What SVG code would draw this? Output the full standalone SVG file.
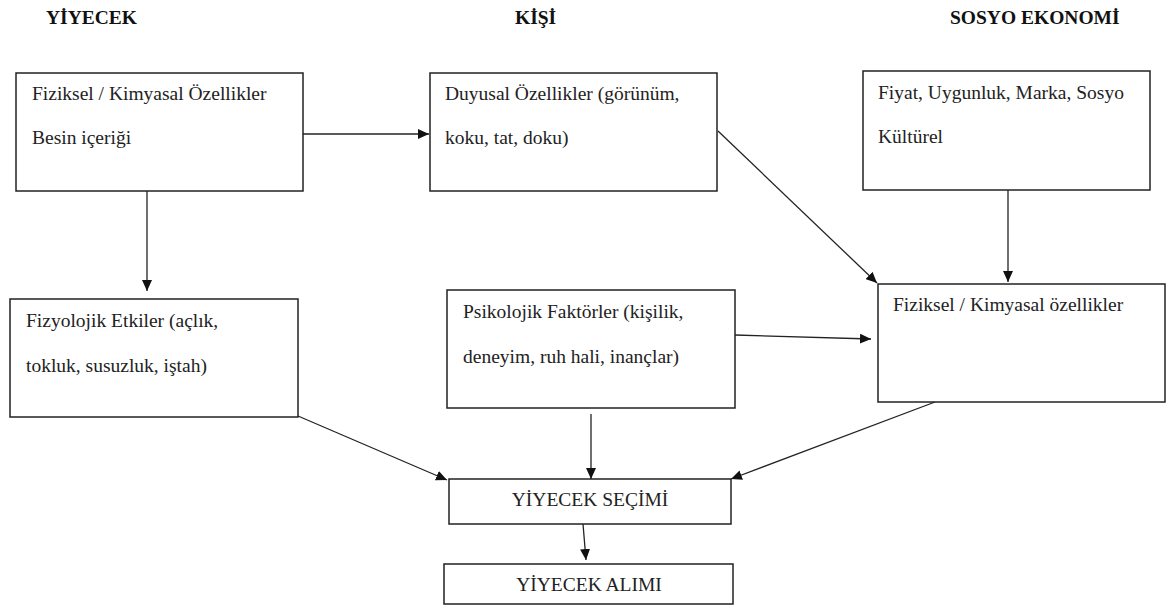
<svg xmlns="http://www.w3.org/2000/svg" width="1173" height="605" viewBox="0 0 1173 605">
  <style>
    .box { fill: #fff; stroke: #222; stroke-width: 1.5; }
    .txt { font-family: 'Liberation Serif', 'Times New Roman', Times, 'DejaVu Serif', serif; font-size: 19.5px; fill: #222; }
    .head { font-family: 'Liberation Serif', 'Times New Roman', Times, 'DejaVu Serif', serif; font-size: 19.5px; font-weight: bold; fill: #111; }
    .mid { text-anchor: middle; }
    .conn { stroke: #222; stroke-width: 1.3; fill: none; marker-end: url(#arrow); }
  </style>
  <defs>
    <marker id="arrow" markerUnits="userSpaceOnUse" markerWidth="12" markerHeight="10" refX="11" refY="5" orient="auto">
      <path d="M0,0 L11,5 L0,10 Z" fill="#111"/>
    </marker>
  </defs>
  <rect width="1173" height="605" fill="#fff"/>

  <!-- column headings -->
  <g id="headings">
    <text class="head" x="46" y="24" font-family="Liberation Serif">YİYECEK</text>
    <text class="head" x="515" y="24" font-family="Liberation Serif">KİŞİ</text>
    <text class="head" x="950" y="24" font-family="Liberation Serif">SOSYO EKONOMİ</text>
  </g>

  <!-- connectors -->
  <g id="connectors">
    <line class="conn" x1="303" y1="134" x2="429" y2="134"/>
    <line class="conn" x1="147" y1="191" x2="147" y2="291"/>
    <line class="conn" x1="718" y1="131" x2="877" y2="283"/>
    <line class="conn" x1="1008" y1="190" x2="1008" y2="282"/>
    <line class="conn" x1="735" y1="335" x2="871" y2="339"/>
    <line class="conn" x1="298" y1="416" x2="447" y2="480"/>
    <line class="conn" x1="591" y1="414" x2="591" y2="479"/>
    <line class="conn" x1="935" y1="402" x2="731" y2="479"/>
    <line class="conn" x1="583" y1="524" x2="586" y2="560"/>
  </g>

  <g id="food-properties">
    <rect class="box" x="16" y="73" width="287" height="118"/>
    <text class="txt" x="32" y="100">Fiziksel / Kimyasal Özellikler</text>
    <text class="txt" x="32" y="144">Besin içeriği</text>
  </g>

  <g id="sensory">
    <rect class="box" x="430" y="73" width="287" height="118"/>
    <text class="txt" x="445" y="100">Duyusal Özellikler (görünüm,</text>
    <text class="txt" x="445" y="144">koku, tat, doku)</text>
  </g>

  <g id="socio-economic">
    <rect class="box" x="863" y="71" width="287" height="119"/>
    <text class="txt" x="878" y="99">Fiyat, Uygunluk, Marka, Sosyo</text>
    <text class="txt" x="878" y="143">Kültürel</text>
  </g>

  <g id="physiological">
    <rect class="box" x="10" y="299" width="288" height="118"/>
    <text class="txt" x="26" y="327">Fizyolojik Etkiler (açlık,</text>
    <text class="txt" x="26" y="372">tokluk, susuzluk, iştah)</text>
  </g>

  <g id="psychological">
    <rect class="box" x="447" y="290" width="288" height="118"/>
    <text class="txt" x="463" y="318">Psikolojik Faktörler (kişilik,</text>
    <text class="txt" x="463" y="363">deneyim, ruh hali, inançlar)</text>
  </g>

  <g id="physical-chemical">
    <rect class="box" x="878" y="284" width="287" height="118"/>
    <text class="txt" x="893" y="311">Fiziksel / Kimyasal özellikler</text>
  </g>

  <g id="food-choice">
    <rect class="box" x="449" y="479" width="282" height="45"/>
    <text class="txt mid" x="590" y="506">YİYECEK SEÇİMİ</text>
  </g>

  <g id="food-intake">
    <rect class="box" x="444" y="564" width="289" height="40"/>
    <text class="txt mid" x="589" y="591">YİYECEK ALIMI</text>
  </g>
</svg>
